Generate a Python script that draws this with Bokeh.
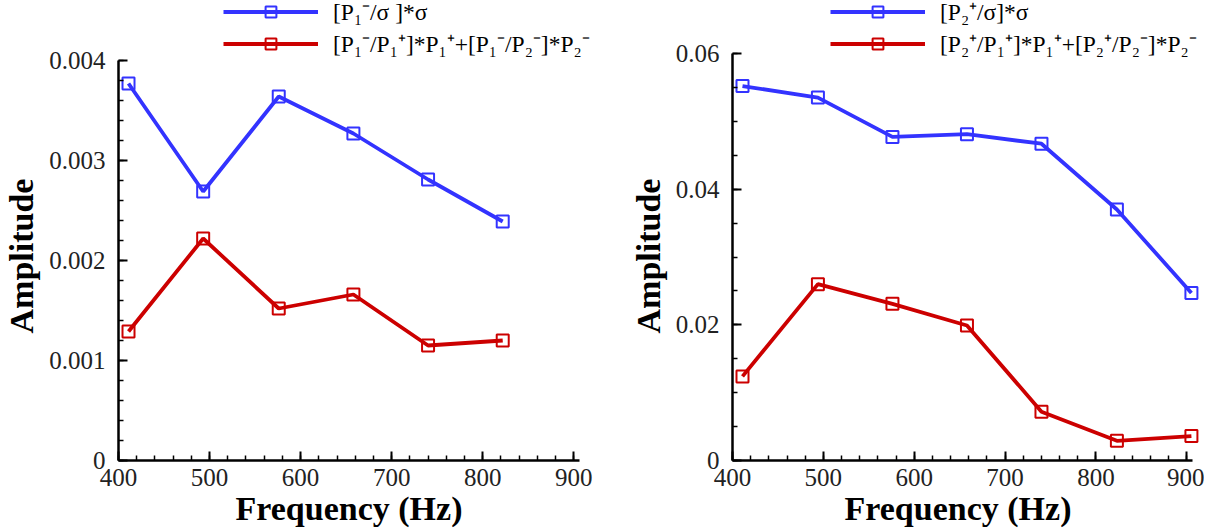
from bokeh.plotting import figure
from bokeh.models import Legend, LegendItem, Range1d, FixedTicker, PrintfTickFormatter
from bokeh.layouts import row
from bokeh.embed import file_html
from bokeh.resources import INLINE

# ---- data ----
freq_left = [411, 493, 576, 658, 740, 822]
left_blue = [0.00377, 0.00269, 0.00364, 0.00327, 0.00281, 0.00239]
left_red = [0.00129, 0.00222, 0.00152, 0.00166, 0.00115, 0.00120]
left_labels = ["[P\u2081\u207b/\u03c3 ]*\u03c3",
               "[P\u2081\u207b/P\u2081\u207a]*P\u2081\u207a+[P\u2081\u207b/P\u2082\u207b]*P\u2082\u207b"]

freq_right = [411, 494, 576, 658, 740, 823, 905]
right_blue = [0.0552, 0.0535, 0.0477, 0.0481, 0.0467, 0.0370, 0.0247]
right_red = [0.0124, 0.0260, 0.0231, 0.0199, 0.0072, 0.0029, 0.0036]
right_labels = ["[P\u2082\u207a/\u03c3]*\u03c3",
                "[P\u2082\u207a/P\u2081\u207a]*P\u2081\u207a+[P\u2082\u207a/P\u2082\u207b]*P\u2082\u207b"]

x_major = [400, 500, 600, 700, 800, 900]
x_minor = list(range(400, 901, 20))
left_y_major = [0, 0.001, 0.002, 0.003, 0.004]
left_y_minor = [i * 0.0002 for i in range(21)]
right_y_major = [0, 0.02, 0.04, 0.06]
right_y_minor = [i * 0.005 for i in range(13)]

BLUE = "#3333ff"
RED = "#cc0000"
FONT = "Liberation Serif"
FRAME_H = 460
NBSP = "\u00a0"


def make_fig(freq, blue, red, labels, ymax, axis_px, ymaj, ymin, x_end, fw, bl, br, leg_xy):
    # the frame reaches the top of the figure so the legend can sit above the axis top
    ytop = ymax * FRAME_H / axis_px
    p = figure(frame_width=fw, frame_height=FRAME_H, min_border_left=bl, min_border_top=0,
               min_border_right=br, min_border_bottom=64,
               x_range=Range1d(400, x_end), y_range=Range1d(0, ytop),
               output_backend="svg", toolbar_location=None, tools="")
    p.outline_line_color = None
    p.grid.visible = False
    rb = p.line(freq, blue, line_color=BLUE, line_width=3.8)
    sb = p.scatter(freq, blue, marker="square", size=12, fill_color=None,
                   line_color=BLUE, line_width=2)
    rr = p.line(freq, red, line_color=RED, line_width=3.8)
    sr = p.scatter(freq, red, marker="square", size=12, fill_color=None,
                   line_color=RED, line_width=2)
    p.xaxis.ticker = FixedTicker(ticks=x_major, minor_ticks=x_minor)
    p.yaxis.ticker = FixedTicker(ticks=ymaj, minor_ticks=ymin)
    p.yaxis.bounds = (0, ymax)
    p.xaxis.bounds = (400, 906)
    p.xaxis.formatter = PrintfTickFormatter(format="%g")
    p.yaxis.formatter = PrintfTickFormatter(format="%g")
    for ax in (p.xaxis[0], p.yaxis[0]):
        ax.axis_line_width = 2.5
        ax.axis_line_color = "black"
        ax.major_tick_in = 9
        ax.major_tick_out = 0
        ax.minor_tick_in = 5
        ax.minor_tick_out = 0
        ax.major_tick_line_width = 2
        ax.minor_tick_line_width = 1.5
        ax.major_tick_line_color = "black"
        ax.minor_tick_line_color = "black"
        ax.major_label_text_font = FONT
        ax.major_label_text_font_size = "25px"
        ax.major_label_text_color = "#222222"
        ax.axis_label_text_font = FONT
        ax.axis_label_text_font_size = "34px"
        ax.axis_label_text_font_style = "bold"
        ax.axis_label_text_color = "black"
    # trailing no-break spaces shift the centred titles onto the drawn axes
    p.xaxis.axis_label = "Frequency (Hz)" + NBSP * 2
    p.yaxis.axis_label = "Amplitude" + NBSP * 6
    p.xaxis.major_label_standoff = 8
    p.xaxis.axis_label_standoff = 1
    p.yaxis.major_label_standoff = 13
    p.yaxis.axis_label_standoff = 6
    legend = Legend(items=[LegendItem(label=labels[0], renderers=[rb, sb]),
                           LegendItem(label=labels[1], renderers=[rr, sr])],
                    location=leg_xy, padding=0, margin=0, spacing=-3,
                    glyph_width=95, glyph_height=27, label_height=27,
                    label_standoff=15, label_text_font=FONT,
                    label_text_font_size="23.5px", label_text_color="black",
                    background_fill_alpha=0, border_line_color=None)
    p.add_layout(legend)
    return p


p1 = make_fig(freq_left, left_blue, left_red, left_labels, 0.004, 400,
              left_y_major, left_y_minor, 925, 478, 107, 16, (105, 401))
p2 = make_fig(freq_right, right_blue, right_red, right_labels, 0.06, 407,
              right_y_major, right_y_minor, 915, 468, 120, 4, (98, 401))

layout = row(p1, p2)
open("out.html", "w").write(file_html(layout, INLINE))
